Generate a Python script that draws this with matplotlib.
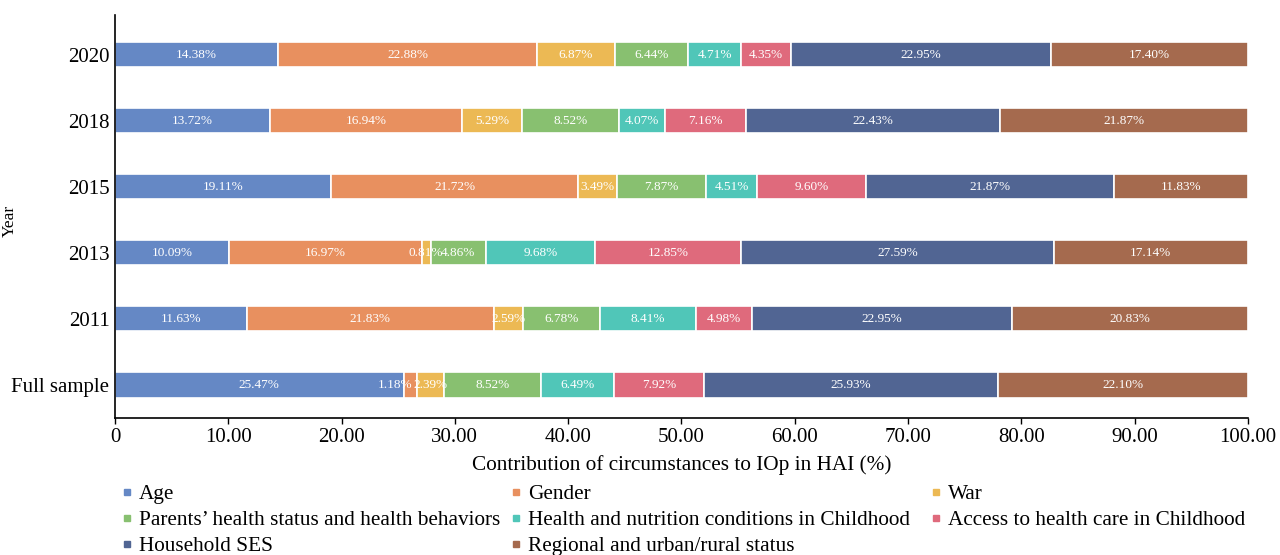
import numpy as np
import matplotlib
matplotlib.use("Agg")
import matplotlib.pyplot as plt
from matplotlib.lines import Line2D

plt.rcParams['font.family'] = ['Liberation Serif', 'DejaVu Serif']

# Data (bottom to top)
years = ['Full sample', '2011', '2013', '2015', '2018', '2020']
categories = ['Age', 'Gender', 'War',
              'Parents\u2019 health status and health behaviors',
              'Health and nutrition conditions in Childhood',
              'Access to health care in Childhood',
              'Household SES', 'Regional and urban/rural status']

age = [25.47, 11.63, 10.09, 19.11, 13.72, 14.38]
gender = [1.18, 21.83, 16.97, 21.72, 16.94, 22.88]
war = [2.39, 2.59, 0.81, 3.49, 5.29, 6.87]
parents = [8.52, 6.78, 4.86, 7.87, 8.52, 6.44]
nutrition = [6.49, 8.41, 9.68, 4.51, 4.07, 4.71]
access = [7.92, 4.98, 12.85, 9.60, 7.16, 4.35]
ses = [25.93, 22.95, 27.59, 21.87, 22.43, 22.95]
regional = [22.10, 20.83, 17.14, 11.83, 21.87, 17.40]

series = [age, gender, war, parents, nutrition, access, ses, regional]
colors = ['#6588C5', '#E8905F', '#ECB954', '#88C070',
          '#50C6B8', '#DF6A7C', '#516593', '#A56A4E']

fig = plt.figure(figsize=(12.8, 5.55), dpi=100)
ax = fig.add_axes([0.0898, 0.2468, 0.8852, 0.726])

y = np.arange(len(years))
left = np.zeros(len(years))
for vals, col in zip(series, colors):
    vals = np.array(vals)
    ax.barh(y, vals, left=left, height=0.38, color=col,
            edgecolor='white', linewidth=1.2)
    for yi, (l, v) in enumerate(zip(left, vals)):
        # small Gender segment in Full sample: label pushed left like the original
        if yi == 0 and 1.0 < v < 2.0:
            ax.text(l + v - 0.4, yi, f'{v:.2f}%', ha='right', va='center',
                    color='white', fontsize=9.5)
        else:
            ax.text(l + v / 2, yi, f'{v:.2f}%', ha='center', va='center',
                    color='white', fontsize=9.5)
    left += vals

ax.set_xlim(0, 100)
ax.set_ylim(-0.5, 5.6)
ax.set_xticks(np.arange(0, 101, 10))
ax.set_xticklabels(['0'] + [f'{t:.2f}' for t in np.arange(10, 101, 10)])
ax.set_yticks(y)
ax.set_yticklabels(years)
ax.tick_params(axis='x', labelsize=15, direction='out', length=4, width=1)
ax.tick_params(axis='y', labelsize=15, length=0, pad=4)
for s in ['top', 'right']:
    ax.spines[s].set_visible(False)
for s in ['left', 'bottom']:
    ax.spines[s].set_linewidth(1.2)

ax.set_xlabel('Contribution of circumstances to IOp in HAI (%)', fontsize=15.3, labelpad=5.5)
ax.set_ylabel('Year', fontsize=12.5)
ax.yaxis.set_label_coords(-0.0856, 0.49)

# legend: three columns laid out like the original (row-major order)
handles = [Line2D([], [], marker='s', linestyle='none', color=c, markersize=4.5)
           for c in colors]
columns = [[0, 3, 6], [1, 4, 7], [2, 5]]
col_x = [0.0942, 0.3981, 0.7263]
for idx, cx in zip(columns, col_x):
    fig.legend([handles[i] for i in idx], [categories[i] for i in idx],
               loc='upper left', bbox_to_anchor=(cx, 0.127),
               frameon=False, fontsize=15.3, handlelength=0.6,
               handletextpad=0.26, labelspacing=0.29,
               borderaxespad=0, borderpad=0)

fig.savefig('out.png', dpi=100)
